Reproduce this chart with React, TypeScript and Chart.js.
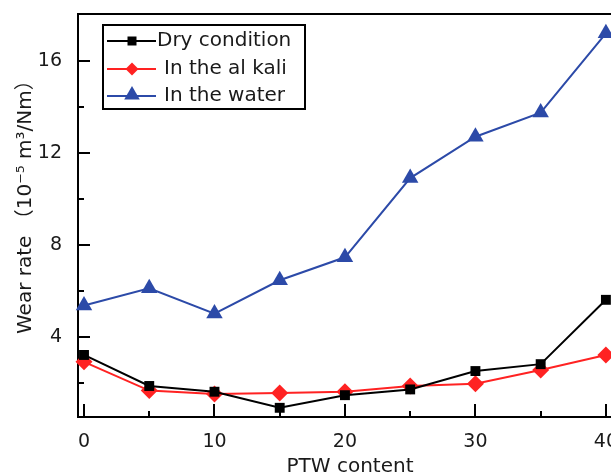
import React, { useEffect, useRef } from "react";
import { Chart, registerables } from "chart.js";

Chart.register(...registerables);

// ---- data ----
const ptwContent = [0, 5, 10, 15, 20, 25, 30, 35, 40];
const dryCondition = [3.2, 1.85, 1.6, 0.9, 1.45, 1.7, 2.5, 2.8, 5.6];
const inAlkali = [2.9, 1.65, 1.5, 1.55, 1.6, 1.85, 1.95, 2.55, 3.2];
const inWater = [5.35, 6.1, 5.0, 6.45, 7.45, 10.9, 12.7, 13.75, 17.2];
const seriesLabels = ["Dry condition", "In the al kali", "In the water"];
const xMajorTicks = [0, 10, 20, 30, 40];
const xMinorTicks = [5, 15, 25, 35];
const yMajorTicks = [4, 8, 12, 16];
const yMinorTicks = [2, 6, 10, 14];
const xTitle = "PTW content";
const yTitle = "Wear rate （10⁻⁵ m³/Nm）";

const FONT = '"DejaVu Sans", "Noto Sans CJK SC", sans-serif';
const TEXT = "#1a1a1a";
const BLUE = "#2c4aa8";
const RED = "#ff2222";
const BLACK = "#000000";

function drawMarker(ctx: CanvasRenderingContext2D, style: string, x: number, y: number, r: number, color: string) {
  ctx.save();
  ctx.fillStyle = color;
  ctx.beginPath();
  if (style === "rect") {
    const s = r;
    ctx.rect(x - s, y - s, 2 * s, 2 * s);
  } else if (style === "rectRot") {
    ctx.moveTo(x, y - r);
    ctx.lineTo(x + r, y);
    ctx.lineTo(x, y + r);
    ctx.lineTo(x - r, y);
    ctx.closePath();
  } else {
    let a = 0;
    ctx.moveTo(x + Math.sin(a) * r, y - Math.cos(a) * r);
    a += (2 * Math.PI) / 3;
    ctx.lineTo(x + Math.sin(a) * r, y - Math.cos(a) * r);
    a += (2 * Math.PI) / 3;
    ctx.lineTo(x + Math.sin(a) * r, y - Math.cos(a) * r);
    ctx.closePath();
  }
  ctx.fill();
  ctx.restore();
}

const framePlugin = {
  id: "frame",
  afterDraw(chart: any) {
    const { ctx, chartArea: a, scales } = chart;
    const xs = scales.x;
    const ys = scales.y;
    ctx.save();
    ctx.strokeStyle = BLACK;
    ctx.lineWidth = 2;
    // top border
    ctx.beginPath();
    ctx.moveTo(a.left - 1, a.top);
    ctx.lineTo(a.right + 2, a.top);
    ctx.stroke();

    // ticks (inward)
    const xTick = (v: number, len: number) => {
      const px = Math.round(xs.getPixelForValue(v));
      ctx.beginPath();
      ctx.moveTo(px, a.bottom);
      ctx.lineTo(px, a.bottom - len);
      ctx.stroke();
    };
    const yTick = (v: number, len: number) => {
      const py = Math.round(ys.getPixelForValue(v));
      ctx.beginPath();
      ctx.moveTo(a.left, py);
      ctx.lineTo(a.left + len, py);
      ctx.stroke();
    };
    ctx.lineWidth = 2;
    xMajorTicks.forEach((v) => xTick(v, 13));
    xMinorTicks.forEach((v) => xTick(v, 6));
    yMajorTicks.forEach((v) => yTick(v, 12));
    yMinorTicks.forEach((v) => yTick(v, 6));

    // tick labels
    ctx.fillStyle = TEXT;
    ctx.font = `19px ${FONT}`;
    ctx.textAlign = "center";
    ctx.textBaseline = "top";
    xMajorTicks.forEach((v) => {
      ctx.fillText(String(v), xs.getPixelForValue(v), a.bottom + 16);
    });
    ctx.textAlign = "right";
    ctx.textBaseline = "middle";
    yMajorTicks.forEach((v) => {
      ctx.fillText(String(v), a.left - 16, ys.getPixelForValue(v));
    });

    // axis titles
    ctx.font = `20px ${FONT}`;
    ctx.textAlign = "center";
    ctx.textBaseline = "top";
    ctx.fillText(xTitle, 350, a.bottom + 40);

    ctx.save();
    ctx.translate(26, 334);
    ctx.rotate(-Math.PI / 2);
    ctx.textAlign = "left";
    ctx.textBaseline = "middle";
    ctx.fillText(yTitle, 0, 0);
    ctx.restore();

    // legend
    const lx = 103, ly = 25, lw = 202, lh = 84;
    ctx.lineWidth = 2;
    ctx.strokeStyle = BLACK;
    ctx.strokeRect(lx, ly, lw, lh);
    const rows = [41, 69, 96];
    const textX = [157, 164, 164];
    const mr = [4.5, 6.5, 9];
    chart.data.datasets.forEach((ds: any, i: number) => {
      const y = rows[i];
      ctx.strokeStyle = ds.borderColor;
      ctx.lineWidth = 2;
      ctx.beginPath();
      ctx.moveTo(107, y);
      ctx.lineTo(156, y);
      ctx.stroke();
      drawMarker(ctx, ds.pointStyle, 132, i === 2 ? y - 1 : y, mr[i], ds.pointBackgroundColor);
      ctx.fillStyle = TEXT;
      ctx.font = `20px ${FONT}`;
      ctx.textAlign = "left";
      ctx.textBaseline = "middle";
      ctx.fillText(ds.label, textX[i], y);
    });
    ctx.restore();
  },
};

export default function App() {
  const ref = useRef<HTMLCanvasElement | null>(null);
  useEffect(() => {
    if (!ref.current) return;
    const mk = (vals: number[]) => ptwContent.map((x, i) => ({ x, y: vals[i] }));
    const common = { borderWidth: 2, pointBorderWidth: 0, clip: false as any };
    const chart = new Chart(ref.current, {
      type: "line",
      data: {
        datasets: [
          {
            label: seriesLabels[0],
            data: mk(dryCondition),
            borderColor: BLACK,
            backgroundColor: BLACK,
            pointBackgroundColor: BLACK,
            pointBorderColor: BLACK,
            pointStyle: "rect",
            pointRadius: 7,
            ...common,
          },
          {
            label: seriesLabels[1],
            data: mk(inAlkali),
            borderColor: RED,
            backgroundColor: RED,
            pointBackgroundColor: RED,
            pointBorderColor: RED,
            pointStyle: "rectRot",
            pointRadius: 8.5,
            ...common,
          },
          {
            label: seriesLabels[2],
            data: mk(inWater),
            borderColor: BLUE,
            backgroundColor: BLUE,
            pointBackgroundColor: BLUE,
            pointBorderColor: BLUE,
            pointStyle: "triangle",
            pointRadius: 9.5,
            ...common,
          },
        ],
      },
      options: {
        responsive: false,
        animation: false,
        devicePixelRatio: 1,
        layout: { padding: { left: 78, top: 14, right: 28, bottom: 59 } },
        plugins: { legend: { display: false }, tooltip: { enabled: false } },
        scales: {
          x: {
            type: "linear",
            min: -0.46,
            max: 42,
            ticks: { display: false },
            grid: { display: false },
            border: { display: true, color: BLACK, width: 2 },
            afterFit: (s: any) => {
              s.height = 0;
              s.paddingLeft = 0;
              s.paddingRight = 0;
            },
          },
          y: {
            type: "linear",
            min: 0.5,
            max: 18.04,
            ticks: { display: false },
            grid: { display: false },
            border: { display: true, color: BLACK, width: 2 },
            afterFit: (s: any) => {
              s.width = 0;
              s.paddingTop = 0;
              s.paddingBottom = 0;
            },
          },
        },
      },
      plugins: [framePlugin],
    });
    return () => chart.destroy();
  }, []);
  return (
    <div style={{ position: "fixed", left: 0, top: 0, width: 611, height: 476, overflow: "hidden", background: "#fff" }}>
      <canvas ref={ref} width={660} height={476} style={{ display: "block", width: 660, height: 476 }} />
    </div>
  );
}
